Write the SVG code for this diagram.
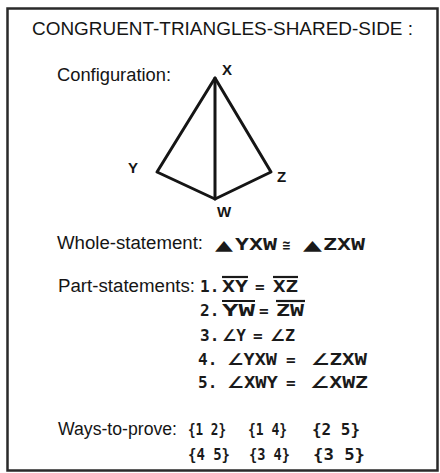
<svg xmlns="http://www.w3.org/2000/svg" width="440" height="473" viewBox="0 0 440 473">
<style>
.sans{font-family:"Liberation Sans",Arial,sans-serif;fill:#151515}
.mono{font-family:"DejaVu Sans Mono","Liberation Mono",monospace;font-weight:bold;fill:#1a1a1a;font-size:16px}
.sym{font-family:"DejaVu Sans",sans-serif;font-weight:bold;font-size:16px}
.tri{font-family:"DejaVu Sans",sans-serif;fill:#1a1a1a;font-size:14px}
.lbl{font-family:"Liberation Sans",Arial,sans-serif;font-weight:bold;fill:#151515;font-size:15px}
.edge{stroke:#151515;stroke-width:3;fill:none;stroke-linejoin:round;stroke-linecap:round}
.bar{stroke:#1a1a1a;stroke-width:2.2}
</style>
<rect width="440" height="473" fill="#fff"/>
<g id="frame"><rect x="7.5" y="8.5" width="430" height="462" fill="none" stroke="#2a2a2a" stroke-width="2.5"/></g>
<g id="title"><text class="sans" x="32" y="35" font-size="19" textLength="381" lengthAdjust="spacingAndGlyphs">CONGRUENT-TRIANGLES-SHARED-SIDE :</text></g>
<g id="configuration">
<text class="sans" x="57" y="81" font-size="18" textLength="114" lengthAdjust="spacingAndGlyphs">Configuration:</text>
<g id="edges">
<path class="edge" d="M215 78 L157 172 L215 199 L271 172 Z"/>
<line class="edge" x1="215" y1="78" x2="215" y2="199"/>
</g>
<g id="vertex-X"><text class="lbl" x="222" y="75">X</text></g>
<g id="vertex-Y"><text class="lbl" x="128" y="173">Y</text></g>
<g id="vertex-Z"><text class="lbl" x="277" y="182">Z</text></g>
<g id="vertex-W"><text class="lbl" x="217" y="217">W</text></g>
</g>
<g id="whole-statement">
<text class="sans" x="57" y="249" font-size="18" textLength="146" lengthAdjust="spacingAndGlyphs">Whole-statement:</text>
<text class="tri" x="215" y="250" textLength="18" lengthAdjust="spacingAndGlyphs">▲</text>
<text class="mono" x="235" y="250" textLength="42" lengthAdjust="spacingAndGlyphs">YXW</text>
<text class="tri" x="282" y="250" font-size="16" font-weight="bold" textLength="9" lengthAdjust="spacingAndGlyphs">≅</text>
<text class="tri" x="303" y="250" textLength="19" lengthAdjust="spacingAndGlyphs">▲</text>
<text class="mono" x="323" y="250" textLength="42" lengthAdjust="spacingAndGlyphs">ZXW</text>
</g>
<g id="part-statements">
<text class="sans" x="58" y="292" font-size="18" textLength="137" lengthAdjust="spacingAndGlyphs">Part-statements:</text>
<text class="mono" x="200" y="292">1.</text>
<text class="mono" x="222" y="292" textLength="26" lengthAdjust="spacingAndGlyphs">XY</text>
<line class="bar" x1="222" y1="277" x2="248" y2="277"/>
<text class="mono" x="255" y="292">=</text>
<text class="mono" x="273" y="292" textLength="25" lengthAdjust="spacingAndGlyphs">XZ</text>
<line class="bar" x1="273" y1="277" x2="298" y2="277"/>
<text class="mono" x="200" y="316">2.</text>
<text class="mono" x="222" y="316" textLength="33" lengthAdjust="spacingAndGlyphs">YW</text>
<line class="bar" x1="222" y1="301" x2="255" y2="301"/>
<text class="mono" x="259" y="316">=</text>
<text class="mono" x="276" y="316" textLength="28" lengthAdjust="spacingAndGlyphs">ZW</text>
<line class="bar" x1="276" y1="301" x2="305" y2="301"/>
<text class="mono" x="200" y="341">3.</text>
<text class="mono" x="222" y="341" textLength="24" lengthAdjust="spacingAndGlyphs"><tspan class="sym">∠</tspan>Y</text>
<text class="mono" x="253" y="341">=</text>
<text class="mono" x="270" y="341" textLength="25" lengthAdjust="spacingAndGlyphs"><tspan class="sym">∠</tspan>Z</text>
<text class="mono" x="198" y="365">4.</text>
<text class="mono" x="227" y="365" textLength="50" lengthAdjust="spacingAndGlyphs"><tspan class="sym">∠</tspan>YXW</text>
<text class="mono" x="286" y="365">=</text>
<text class="mono" x="311" y="365" textLength="56" lengthAdjust="spacingAndGlyphs"><tspan class="sym">∠</tspan>ZXW</text>
<text class="mono" x="198" y="388">5.</text>
<text class="mono" x="227" y="388" textLength="51" lengthAdjust="spacingAndGlyphs"><tspan class="sym">∠</tspan>XWY</text>
<text class="mono" x="286" y="388">=</text>
<text class="mono" x="310" y="388" textLength="58" lengthAdjust="spacingAndGlyphs"><tspan class="sym">∠</tspan>XWZ</text>
</g>
<g id="ways-to-prove">
<text class="sans" x="58" y="435" font-size="18" textLength="119" lengthAdjust="spacingAndGlyphs">Ways-to-prove:</text>
<text class="mono" x="188" y="435" textLength="38" lengthAdjust="spacingAndGlyphs">{1 2}</text>
<text class="mono" x="248" y="435" textLength="39" lengthAdjust="spacingAndGlyphs">{1 4}</text>
<text class="mono" x="312" y="435" textLength="48" lengthAdjust="spacingAndGlyphs">{2 5}</text>
<text class="mono" x="188" y="460" textLength="42" lengthAdjust="spacingAndGlyphs">{4 5}</text>
<text class="mono" x="249" y="460" textLength="41" lengthAdjust="spacingAndGlyphs">{3 4}</text>
<text class="mono" x="313" y="460" textLength="52" lengthAdjust="spacingAndGlyphs">{3 5}</text>
</g>
</svg>
